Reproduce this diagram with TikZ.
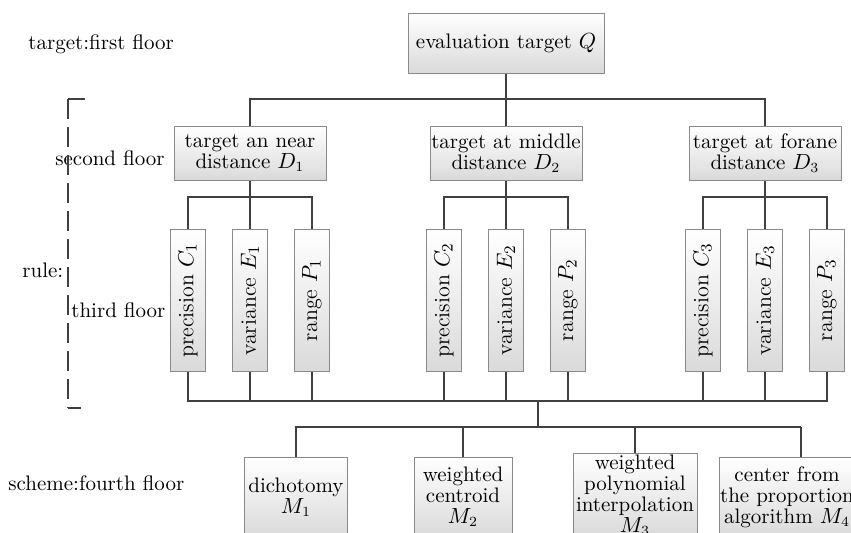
\documentclass[tikz,border=0pt]{standalone}
\usepackage{graphicx}
\definecolor{linecol}{HTML}{404040}
\definecolor{boxborder}{HTML}{8A8A8A}
\definecolor{boxfill}{HTML}{DADADA}
\begin{document}
\begin{tikzpicture}[x=0.5pt,y=-0.5pt,
  box/.style={draw=boxborder, line width=0.5pt, top color=white, bottom color=boxfill,
              inner sep=0.5pt, align=center, font=\fontsize{10.5}{10.5}\selectfont},
  dbox/.style={box, minimum width=76pt, minimum height=27pt},
  vbox/.style={box, minimum width=17.5pt, minimum height=71pt, font=\fontsize{11}{11}\selectfont},
  mbox/.style={box, minimum height=40pt},
  conn/.style={draw=linecol, line width=0.65pt},
  lbl/.style={font=\fontsize{10.5}{12}\selectfont, inner sep=0pt, anchor=west}]
\useasboundingbox (0,0) rectangle (851,532);
\clip (0,0) rectangle (851,532);

% first floor
\node[box, minimum width=98pt, minimum height=30pt] (Q) at (506,43) {evaluation target $Q$};

% second floor
\node[dbox] (D1) at (250,153) {target an near\\distance $D_1$};
\node[dbox] (D2) at (506,153) {target at middle\\distance $D_2$};
\node[dbox] (D3) at (765,153) {target at forane\\distance $D_3$};

% third floor
\node[vbox] (C1) at (188,300) {\rotatebox{90}{precision $C_1$}};
\node[vbox] (E1) at (250,300) {\rotatebox{90}{variance $E_1$}};
\node[vbox] (P1) at (312,300) {\rotatebox{90}{range $P_1$}};
\node[vbox] (C2) at (444,300) {\rotatebox{90}{precision $C_2$}};
\node[vbox] (E2) at (506,300) {\rotatebox{90}{variance $E_2$}};
\node[vbox] (P2) at (568,300) {\rotatebox{90}{range $P_2$}};
\node[vbox] (C3) at (703,300) {\rotatebox{90}{precision $C_3$}};
\node[vbox] (E3) at (765,300) {\rotatebox{90}{variance $E_3$}};
\node[vbox] (P3) at (827,300) {\rotatebox{90}{range $P_3$}};

% fourth floor
\node[mbox, minimum width=51.5pt] (M1) at (296,497) {dichotomy\\$M_1$};
\node[mbox, minimum width=49pt] (M2) at (463,497) {weighted\\centroid\\$M_2$};
\node[mbox, minimum width=62pt] (M3) at (635,495) {weighted\\polynomial\\interpolation\\$M_3$};
\node[mbox, minimum width=68pt] (M4) at (787,497) {center from\\the proportion\\algorithm $M_4$};

% bus coordinates
\coordinate (t) at (506,99);
\coordinate (s1) at (250,197);
\coordinate (s2) at (506,197);
\coordinate (s3) at (765,197);
\coordinate (b) at (538,401);
\coordinate (m) at (538,427);
\coordinate (m4) at (801,427);

% connectors
\draw[conn] (Q.south) -- (t);
\draw[conn] (D1.north) |- (t) -| (D3.north);
\draw[conn] (t) -- (D2.north);
\draw[conn] (C1.north) |- (s1) -| (P1.north);
\draw[conn] (D1.south) -- (E1.north);
\draw[conn] (C2.north) |- (s2) -| (P2.north);
\draw[conn] (D2.south) -- (E2.north);
\draw[conn] (C3.north) |- (s3) -| (P3.north);
\draw[conn] (D3.south) -- (E3.north);
\draw[conn] (C1.south) |- (b) -| (P3.south);
\foreach \n in {E1,P1,C2,E2,P2,C3,E3} {\draw[conn] (\n.south) -- (\n.south |- b);}
\draw[conn] (b) -- (m);
\draw[conn] (M1.north) |- (m4);
\draw[conn] (m4) -- (m4 |- M4.north);
\draw[conn] (M2.north) -- (M2.north |- m);
\draw[conn] (M3.north) -- (M3.north |- m);

% left labels
\node[lbl] (L1) at (28,44) {target:first floor};
\node[lbl] (L2) at (55,158) {second floor};
\node[lbl] (L3) at (22,270) {rule:};
\node[lbl] (L4) at (71,310) {third floor};
\node[lbl] (L5) at (8,483) {scheme:fourth floor};

% dashed bracket
\coordinate (k1) at (85,99);
\coordinate (k2) at (68,99);
\coordinate (k3) at (68,408);
\coordinate (k4) at (81,408);
\draw[conn] (k1) -- (k2);
\draw[conn, dash pattern=on 10pt off 4pt] (k2) -- (k3);
\draw[conn] (k3) -- (k4);
\end{tikzpicture}
\end{document}
